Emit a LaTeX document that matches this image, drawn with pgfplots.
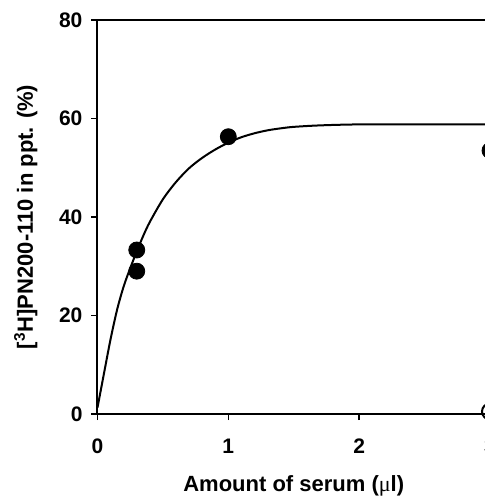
\documentclass[border=0pt]{standalone}
\usepackage{pgfplots}
\pgfplotsset{compat=1.18}
\usepackage{fontspec}
\setmainfont{Liberation Sans}
\newfontfamily\serifmu{Liberation Serif}
\begin{document}
\begin{tikzpicture}[font=\fontsize{11}{13}\selectfont\bfseries]
\begin{axis}[
  name=ax,
  scale only axis,
  width=196.25pt, height=197pt,
  xmin=0, xmax=3, ymin=0, ymax=80,
  axis x line=box, axis y line=left,
  axis line style={-, line width=1pt, black},
  xtick pos=bottom, ytick pos=left,
  xtick={0,1,2,3}, ytick={0,20,40,60,80},
  tick align=outside, major tick length=3pt,
  tick style={line width=0.8pt, black},
  /pgf/number format/assume math mode=true,
  ticklabel style={font=\fontsize{10.5}{12}\selectfont\bfseries},
  x tick label style={yshift=-6pt},
  y tick label style={xshift=-1pt},
  xlabel={Amount of serum ({\serifmu\mdseries μ}l)},
  ylabel={[\textsuperscript{3}H]PN200-110 in ppt. (\%)},
  xlabel style={yshift=-4pt},
  ylabel style={yshift=4pt},
  clip=true,
]
\addplot[black, line width=1pt, smooth, no marks] coordinates {
 (0,1.3) (0.05,8.3) (0.1,15.2) (0.15,21.2) (0.2,25.9) (0.25,29.6) (0.3,33.0)
 (0.35,36.2) (0.4,39.0) (0.5,43.6) (0.6,47.1) (0.7,49.9) (0.8,52.0) (0.9,53.7)
 (1.0,55.1) (1.1,56.2) (1.2,57.0) (1.3,57.6) (1.4,58.0) (1.5,58.3) (1.7,58.6)
 (2.0,58.8) (2.5,58.8) (3,58.8)
};
\addplot[only marks, mark=*, mark size=4pt, black] coordinates {
 (0.3,33.3) (0.3,29.0) (1.0,56.3) (3,53.5)
};
\addplot[only marks, mark=o, mark size=4pt, black, line width=1pt] coordinates {
 (3,0.5)
};
\end{axis}
\pgfresetboundingbox
\path[use as bounding box] ([xshift=-48.75pt,yshift=-41pt]ax.south west) rectangle ([xshift=193.25pt,yshift=207pt]ax.south west);
\end{tikzpicture}
\end{document}
